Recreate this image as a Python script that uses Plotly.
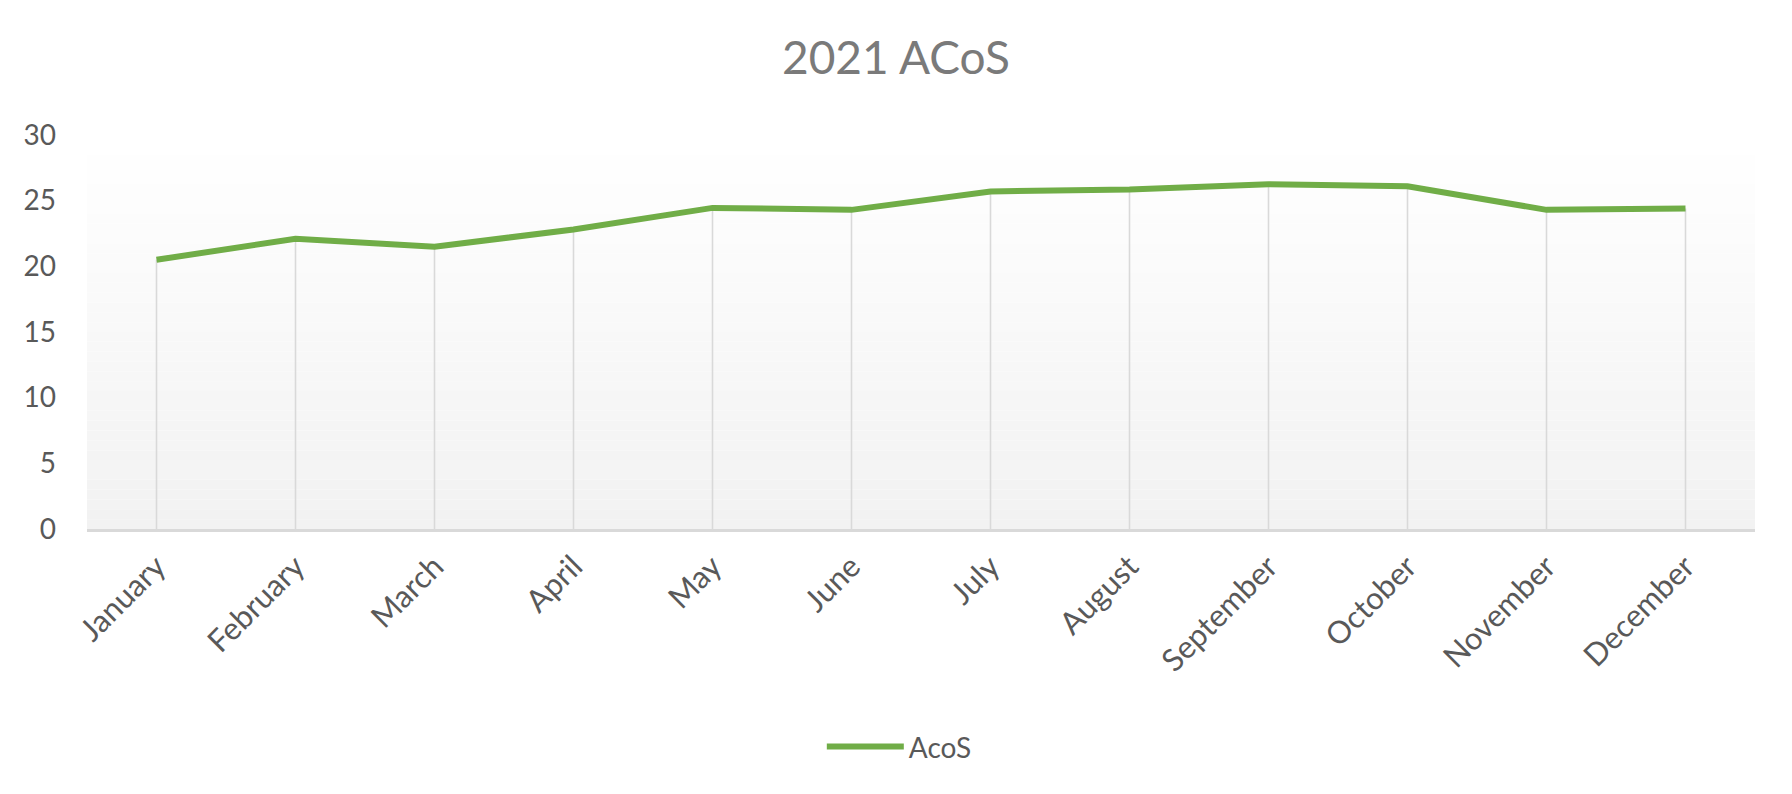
import plotly.graph_objects as go

months = ['January', 'February', 'March', 'April', 'May', 'June', 'July',
          'August', 'September', 'October', 'November', 'December']
acos = [20.5, 22.1, 21.5, 22.8, 24.45, 24.3, 25.7, 25.85, 26.25, 26.1, 24.3, 24.4]
y_ticks = [0, 5, 10, 15, 20, 25, 30]

font_name = 'Lato'
green = '#70ad47'
grey_text = '#595959'

fig = go.Figure()

# drop lines from each point down to the axis
drop_x, drop_y = [], []
for m, v in zip(months, acos):
    drop_x += [m, m, None]
    drop_y += [0, v, None]
fig.add_trace(go.Scatter(x=drop_x, y=drop_y, mode='lines', showlegend=False,
                         hoverinfo='skip', line=dict(color='#d9d9d9', width=1.6)))

fig.add_trace(go.Scatter(x=months, y=acos, mode='lines', name='AcoS',
                         line=dict(color=green, width=6)))

# soft vertical gradient for the plot area
n = 40
for i in range(n):
    t = i / (n - 1)
    c = int(round(242 + (255 - 242) * t))
    fig.add_shape(type='rect', xref='x domain', yref='y domain',
                  x0=0, x1=1, y0=i / n, y1=(i + 1) / n, layer='below',
                  line=dict(width=0), fillcolor='rgb(%d,%d,%d)' % (c, c, c))

# page body has an 8px margin, so everything is pulled up/left by 8
fig.update_layout(
    width=1792, height=794,
    paper_bgcolor='white', plot_bgcolor='rgba(0,0,0,0)',
    margin=dict(l=79, r=45, t=127, b=273),
    font=dict(family=font_name, color=grey_text),
    title=dict(text='2021 ACoS', x=0.4955, xref='container', xanchor='center',
               y=1 - 50 / 794, yref='container', yanchor='middle',
               font=dict(size=46, color='#7a7a7a', family=font_name)),
    showlegend=True,
    legend=dict(orientation='h', x=0.487, xanchor='center', y=-0.553, yanchor='middle',
                font=dict(size=28, color=grey_text), itemwidth=77,
                bgcolor='rgba(0,0,0,0)'),
    hovermode=False,
)

fig.update_xaxes(type='category', range=[-0.5, 11.5], showgrid=False,
                 showline=True, linecolor='#d9d9d9', linewidth=3,
                 tickangle=-45, tickfont=dict(size=31, color=grey_text),
                 ticks='', ticklabelstandoff=4, zeroline=False)
fig.update_yaxes(range=[0, 30], tickvals=y_ticks, showgrid=False, zeroline=False,
                 showline=False, ticks='', ticklabelstandoff=30,
                 tickfont=dict(size=28, color=grey_text))

fig.write_html('out.html')
